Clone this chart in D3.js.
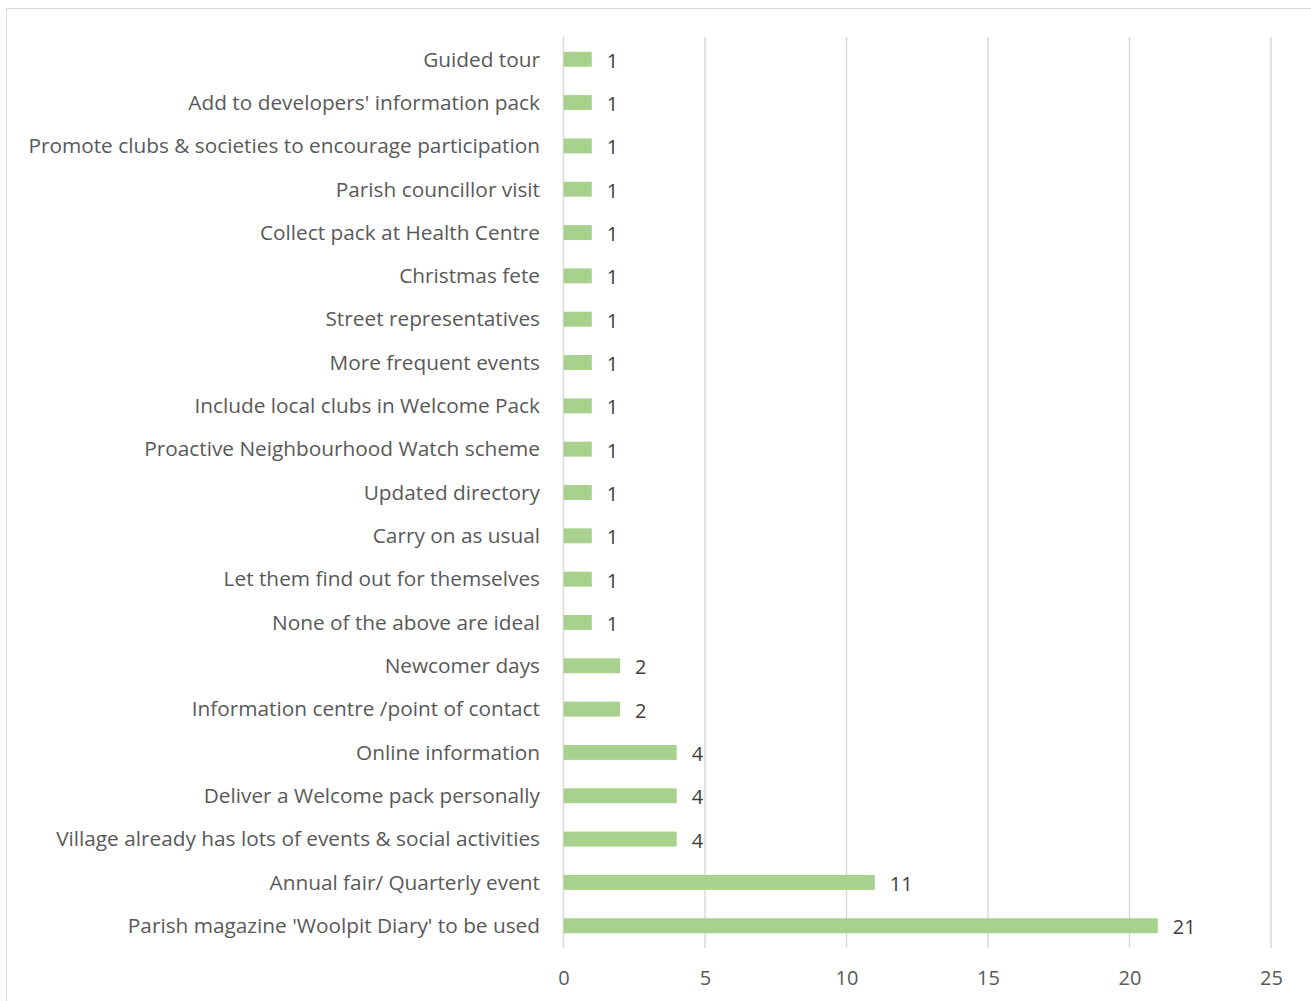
<!DOCTYPE html>
<html><head><meta charset="utf-8">
<script src="https://cdn.jsdelivr.net/npm/d3@7"></script>
<style>body{margin:0;background:#fff;}svg{display:block;}</style>
</head><body>
<svg id="c" width="1311" height="1001"></svg>
<script>
const categories = [
  "Guided tour",
  "Add to developers' information pack",
  "Promote clubs & societies to encourage participation",
  "Parish councillor visit",
  "Collect pack at Health Centre",
  "Christmas fete",
  "Street representatives",
  "More frequent events",
  "Include local clubs in Welcome Pack",
  "Proactive Neighbourhood Watch scheme",
  "Updated directory",
  "Carry on as usual",
  "Let them find out for themselves",
  "None of the above are ideal",
  "Newcomer days",
  "Information centre /point of contact",
  "Online information",
  "Deliver a Welcome pack personally",
  "Village already has lots of events & social activities",
  "Annual fair/ Quarterly event",
  "Parish magazine 'Woolpit Diary' to be used"
];
const values = [1,1,1,1,1,1,1,1,1,1,1,1,1,1,2,2,4,4,4,11,21];
const xTicks = [0,5,10,15,20,25];

const svg = d3.select("#c");
const font = "'Open Sans', sans-serif";
svg.append("rect").attr("x",6.5).attr("y",8.5).attr("width",1320).attr("height",1010)
  .attr("fill","#fff").attr("stroke","#d9d9d9").attr("stroke-width",1);

const x = d3.scaleLinear().domain([0,25]).range([563.5,1271]);
const y = d3.scaleBand().domain(categories).range([37.5,947.5]).paddingInner(0.655).paddingOuter(0.33);

const g = svg.append("g");
g.selectAll("line.grid").data(xTicks).join("line").attr("class","grid")
  .attr("x1",d=>x(d)).attr("x2",d=>x(d)).attr("y1",37).attr("y2",948)
  .attr("stroke","#d9d9d9").attr("stroke-width",1.5);

g.selectAll("rect.bar").data(values).join("rect").attr("class","bar")
  .attr("x",x(0)).attr("y",(d,i)=>y(categories[i]))
  .attr("width",d=>x(d)-x(0)).attr("height",y.bandwidth())
  .attr("fill","#a9d18e");

g.selectAll("text.val").data(values).join("text").attr("class","val")
  .attr("x",d=>x(d)+15).attr("y",(d,i)=>y(categories[i])+y.bandwidth()/2+1.5)
  .attr("dy","0.35em").attr("font-family",font).attr("font-size",20).attr("fill","#404040")
  .text(d=>d);

g.selectAll("text.cat").data(categories).join("text").attr("class","cat")
  .attr("x",540).attr("y",d=>y(d)+y.bandwidth()/2)
  .attr("dy","0.35em").attr("text-anchor","end").attr("font-family",font).attr("font-size",20.8).attr("fill","#595959")
  .text(d=>d);

const ax = d3.axisBottom(x).tickValues(xTicks).tickSize(0).tickPadding(0);
const axg = g.append("g").attr("transform","translate(0,978)").call(ax);
axg.select(".domain").remove();
axg.selectAll("text").attr("dy","0.35em").attr("y",0).attr("font-family",font).attr("font-size",20).attr("fill","#595959");
</script>
</body></html>
